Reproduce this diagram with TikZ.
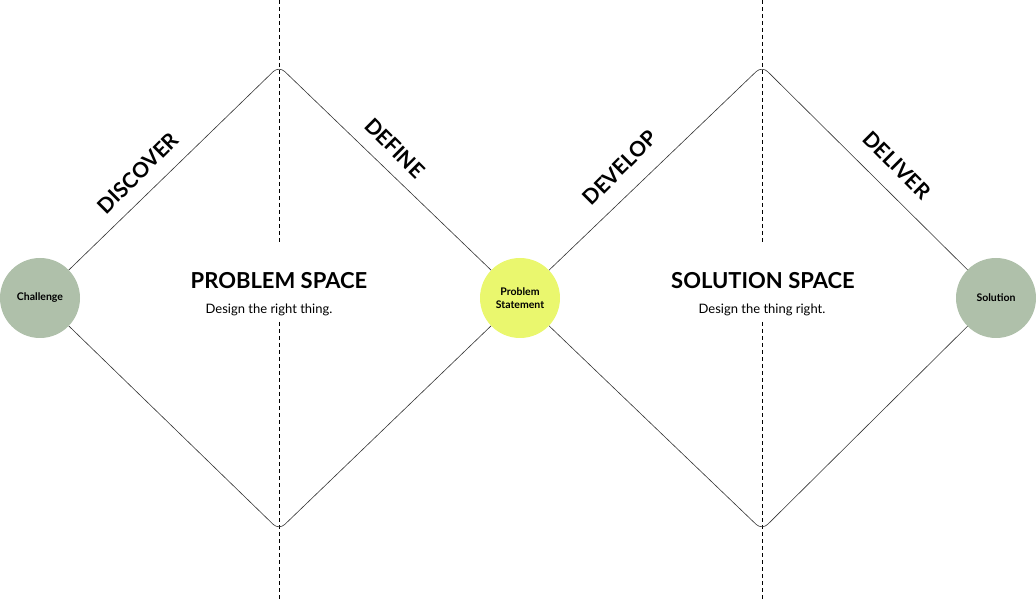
\documentclass[tikz,border=0pt]{standalone}
\usepackage{fontspec}
\setmainfont{Lato}
\definecolor{sage}{HTML}{AFC0AA}
\definecolor{lime}{HTML}{EAF76E}
\begin{document}
\begin{tikzpicture}[x=1pt,y=-1pt,
  edge/.style={draw=black!80,line width=0.6pt,rounded corners=8pt},
  guide/.style={draw=black,dash pattern=on 4pt off 3pt,line width=0.6pt},
  circ/.style={circle,minimum size=80pt,inner sep=0pt,align=center,font=\fontsize{10.5}{13}\selectfont\bfseries},
  phase/.style={font=\fontsize{21}{24}\selectfont\bfseries},
  title/.style={font=\fontsize{22}{26}\selectfont\bfseries},
  sub/.style={font=\fontsize{13}{15}\selectfont}]
\useasboundingbox (0,0) rectangle (1036,601);
\coordinate (t1) at (279,66); \coordinate (b1) at (279,530);
\coordinate (t2) at (762,66); \coordinate (b2) at (762,530);
\coordinate (c1) at (40,298); \coordinate (c2) at (520,298); \coordinate (c3) at (996,298);
\draw[guide] (279,0) -- (279,242); \draw[guide] (279,322) -- (279,601);
\draw[guide] (762,0) -- (762,242); \draw[guide] (762,322) -- (762,601);
\draw[edge] (c1) -- (t1) -- (c2) -- (b1) -- cycle;
\draw[edge] (c2) -- (t2) -- (c3) -- (b2) -- cycle;
\node[circ,fill=sage] (ch) at (c1) {Challenge};
\node[circ,fill=lime] (ps) at (c2) {Problem\\Statement};
\node[circ,fill=sage] (so) at (c3) {Solution};
\node[phase,rotate=45] (disc) at (138,173) {DISCOVER};
\node[phase,rotate=-45] (def) at (395,148) {DEFINE};
\node[phase,rotate=45] (dev) at (620,168) {DEVELOP};
\node[phase,rotate=-45] (del) at (897,165) {DELIVER};
\node[title] (pt) at (279,281) {PROBLEM SPACE};
\node[sub] (pst) at (269,310) {Design the right thing.};
\node[title] (st) at (763,281) {SOLUTION SPACE};
\node[sub] (sst) at (762,310) {Design the thing right.};
\end{tikzpicture}
\end{document}
